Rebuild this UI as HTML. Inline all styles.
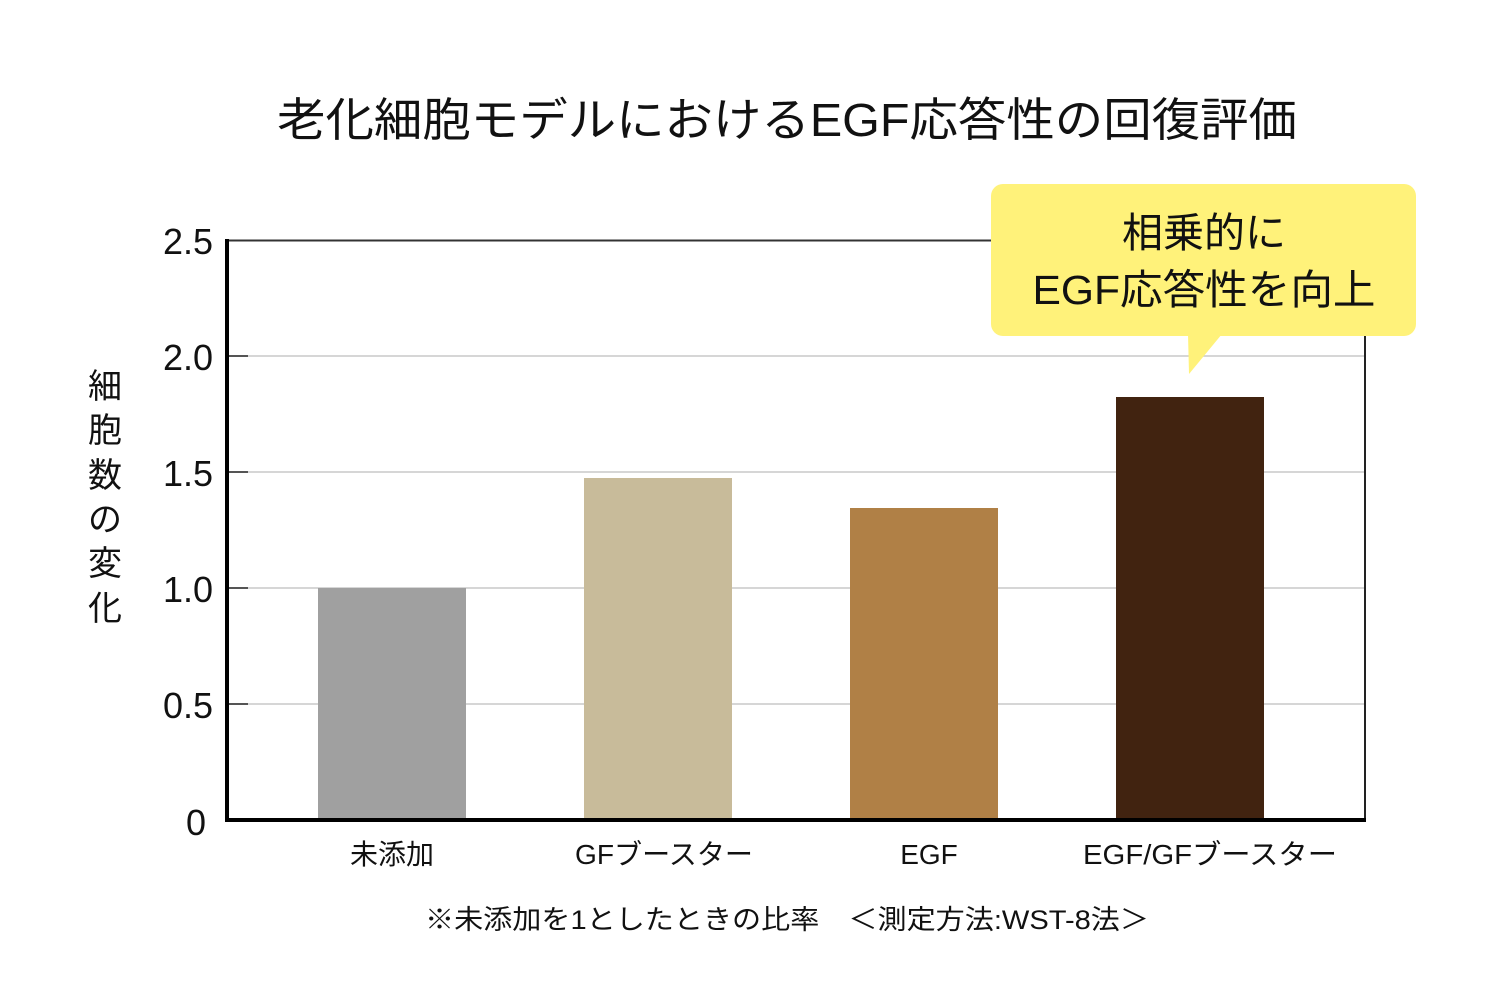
<!DOCTYPE html>
<html><head><meta charset="utf-8"><style>
html,body{margin:0;padding:0;background:#fff}
svg{display:block}
text{font-family:"Liberation Sans","Noto Sans CJK JP",sans-serif;fill:#111}
</style></head><body>
<svg width="1500" height="995" viewBox="0 0 1500 995" xmlns="http://www.w3.org/2000/svg">
<text x="787" y="136" font-size="46" text-anchor="middle" textLength="1020" lengthAdjust="spacingAndGlyphs">老化細胞モデルにおけるEGF応答性の回復評価</text>
<g stroke="#c8c8c8" stroke-width="1.5">
<line x1="227" y1="356" x2="1365" y2="356"/>
<line x1="227" y1="472" x2="1365" y2="472"/>
<line x1="227" y1="588" x2="1365" y2="588"/>
<line x1="227" y1="704" x2="1365" y2="704"/>
</g>
<g stroke="#555" stroke-width="2">
<line x1="227" y1="356" x2="248" y2="356"/><line x1="227" y1="472" x2="248" y2="472"/>
<line x1="227" y1="588" x2="248" y2="588"/><line x1="227" y1="704" x2="248" y2="704"/>
</g>
<line x1="227" y1="240.5" x2="1365" y2="240.5" stroke="#333" stroke-width="2"/>
<line x1="1365" y1="240" x2="1365" y2="820" stroke="#222" stroke-width="2"/>
<rect x="318" y="588" width="148" height="232" fill="#a0a0a0"/>
<rect x="584" y="478" width="148" height="342" fill="#c8bb9a"/>
<rect x="850" y="508" width="148" height="312" fill="#b08046"/>
<rect x="1116" y="397" width="148" height="423" fill="#412310"/>
<line x1="227" y1="239" x2="227" y2="821" stroke="#000" stroke-width="4"/>
<line x1="225" y1="820" x2="1366" y2="820" stroke="#000" stroke-width="4"/>
<g font-size="36" text-anchor="end">
<text x="213" y="254">2.5</text><text x="213" y="370">2.0</text>
<text x="213" y="486">1.5</text><text x="213" y="602">1.0</text>
<text x="213" y="718">0.5</text><text x="206" y="835">0</text>
</g>
<g font-size="34" text-anchor="middle">
<text x="105" y="398">細</text><text x="105" y="442">胞</text><text x="105" y="487">数</text>
<text x="105" y="531">の</text><text x="105" y="575">変</text><text x="105" y="620">化</text>
</g>
<g font-size="28" text-anchor="middle">
<text x="392" y="864">未添加</text><text x="664" y="864" textLength="178" lengthAdjust="spacingAndGlyphs">GFブースター</text>
<text x="929" y="864">EGF</text><text x="1210" y="864" textLength="254" lengthAdjust="spacingAndGlyphs">EGF/GFブースター</text>
</g>
<text x="787" y="929" font-size="27" text-anchor="middle" textLength="724" lengthAdjust="spacingAndGlyphs">※未添加を1としたときの比率　＜測定方法:WST-8法＞</text>
<rect x="991" y="184" width="425" height="152" rx="12" fill="#fff27a"/>
<polygon points="1188,334 1222,334 1189,374" fill="#fff27a"/>
<g font-size="41" text-anchor="middle">
<text x="1204" y="247">相乗的に</text>
<text x="1204" y="304" textLength="343" lengthAdjust="spacingAndGlyphs">EGF応答性を向上</text>
</g>
</svg>
</body></html>
